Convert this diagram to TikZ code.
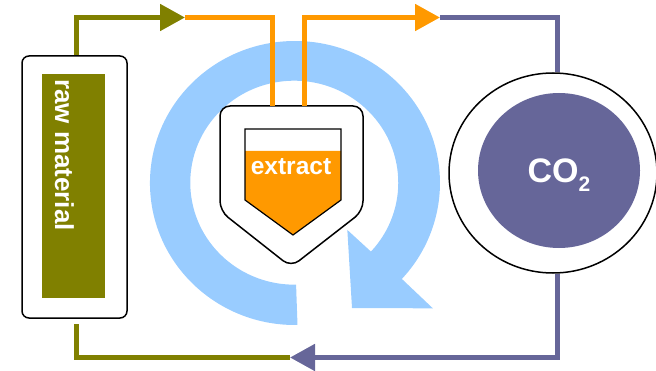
\documentclass[tikz,border=0pt]{standalone}
\usepackage{fontspec}
\setmainfont{Liberation Sans}
\usetikzlibrary{calc, arrows.meta, shapes.geometric}
\definecolor{rawolive}{HTML}{808000}
\definecolor{extorange}{HTML}{FF9900}
\definecolor{copurple}{HTML}{666699}
\definecolor{cycleblue}{HTML}{99CCFF}

\begin{document}
\begin{tikzpicture}[x=1pt, y=1pt,
    pipe/.style={line width=5pt},
    pipetip/.style={-{Triangle[length=25pt, width=26pt]}},
    whitetext/.style={text=white, inner sep=0pt}]
          \useasboundingbox (0,0) rectangle (656,370);
          % Cycle arrow
          \coordinate (ringc) at (295,188);
          \fill[cycleblue] ($(ringc)+(271:143)$) arc[start angle=271, end angle=-42.5, x radius=145, y radius=142]
            -- ($(ringc)+(-42.5:187)$) -- (352,62) -- ($(ringc)+(-42.5:71)$) -- ($(ringc)+(-42.5:103)$)
            arc[start angle=-42.5, end angle=271, x radius=104, y radius=102] -- cycle;
          % Extractor vessel
          \draw[line width=1.5pt, fill=white, rounded corners=10pt] (220,159) -- (220,264) -- (363,264) -- (363,159) -- (291,103) -- cycle;
          \fill[extorange] (245,219) -- (245,170) -- (293,135) -- (341,170) -- (341,219) -- cycle;
          \draw[line width=1.2pt] (245,170) -- (245,241) -- (341,241) -- (341,170) -- (293,135) -- cycle;
          \node[whitetext, font=\fontsize{24.5}{28}\selectfont\bfseries, anchor=base] (extract) at (291,195) {extract};
          % Raw material
          \node[draw, line width=1.5pt, rounded corners=7pt, minimum width=105pt, minimum height=262pt] (rawbox) at (74.5,183) {};
          \node[fill=rawolive, minimum width=63pt, minimum height=224pt, inner sep=0pt] (rawfill) at (73.5,184) {};
          \node[whitetext, font=\fontsize{26}{30}\selectfont\bfseries, rotate=-90, anchor=base west] (rawtext) at (55,291) {raw material};
          % CO2
          \node[draw, ellipse, line width=1.5pt, minimum width=208pt, minimum height=200pt] (co2) at (553,197) {};
          \node[fill=copurple, ellipse, minimum width=162pt, minimum height=155pt, inner sep=0pt] (co2fill) at (559,199.5) {};
          \node[whitetext, font=\fontsize{34}{38}\selectfont\bfseries, anchor=base] (co2text) at (559,187) {CO\raisebox{-9pt}{\fontsize{21}{21}\selectfont 2}};
          % Pipes
          \coordinate (topA) at (185,352.5);
          \coordinate (topB) at (440,352.5);
          \coordinate (botA) at (290,12.5);
          \coordinate (inL) at (272.5,264);
          \coordinate (inR) at (304,264);
          \draw[pipe, rawolive, pipetip] ($(rawbox.north)+(2,0)$) |- (topA);
          \draw[pipe, extorange] (topA) -| (inL);
          \draw[pipe, extorange, pipetip] (inR) |- (topB);
          \draw[pipe, copurple] (topB) -| ($(co2.north)+(4.5,0)$);
          \draw[pipe, copurple, pipetip] ($(co2.south)+(4.5,0)$) |- (botA);
          \draw[pipe, rawolive] (botA) -| ($(rawbox.south)+(2,-5)$);
        \end{tikzpicture}
\end{document}
